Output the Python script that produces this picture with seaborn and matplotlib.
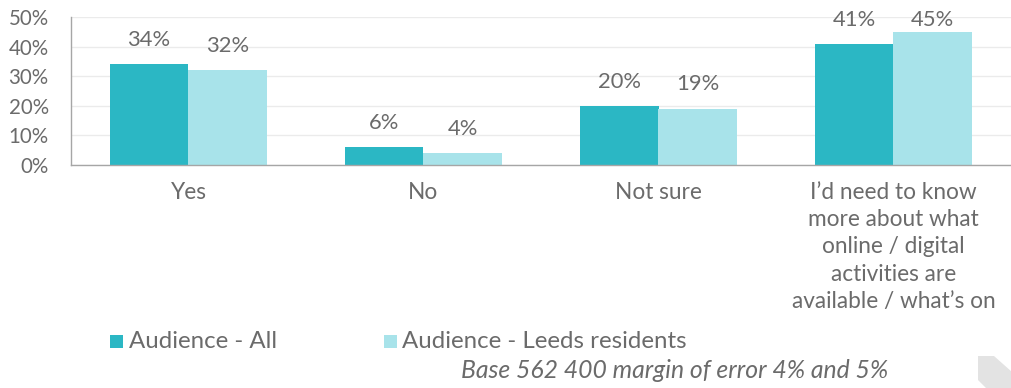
import matplotlib
matplotlib.use("Agg")
import matplotlib.pyplot as plt
import seaborn as sns
import pandas as pd
from matplotlib.patches import Polygon, Rectangle

categories = ["Yes", "No", "Not sure",
              "I\u2019d need to know\nmore about what\nonline / digital\nactivities are\navailable / what\u2019s on"]
series_names = ["Audience - All", "Audience - Leeds residents"]
audience_all = [34, 6, 20, 41]
leeds_residents = [32, 4, 19, 45]
y_ticks = [0, 10, 20, 30, 40, 50]
footnote = "Base 562 400 margin of error 4% and 5%"

colors = ["#2BB7C4", "#A8E3EA"]
text_color = "#6b6b6b"

df = pd.DataFrame({
    "category": categories * 2,
    "series": [series_names[0]] * 4 + [series_names[1]] * 4,
    "value": audience_all + leeds_residents,
})

sns.set_theme(style="white")
plt.rcParams["font.family"] = ["Lato", "DejaVu Sans"]

W, H = 1012, 388
fig = plt.figure(figsize=(W / 100, H / 100), dpi=100)
ax = fig.add_axes([71 / W, 1 - 165 / H, 940 / W, (165 - 17) / H])

sns.barplot(data=df, x="category", y="value", hue="series", order=categories,
            hue_order=series_names, palette=colors, width=0.67, saturation=1,
            ax=ax, legend=False, linewidth=0)

ax.set_ylim(0, 50)
ax.set_yticks(y_ticks)
ax.set_yticklabels([f"{t}%" for t in y_ticks])
ax.yaxis.grid(True, color="#ebebeb", linewidth=1)
ax.set_axisbelow(True)
ax.set_xlabel("")
ax.set_ylabel("")
for side in ["top", "right"]:
    ax.spines[side].set_visible(False)
for side in ["left", "bottom"]:
    ax.spines[side].set_color("#a6a6a6")
    ax.spines[side].set_linewidth(1)
ax.tick_params(axis="y", length=0, pad=16, labelsize=14.8, labelcolor=text_color)
ax.tick_params(axis="x", length=0, pad=12, labelsize=16.3, labelcolor=text_color)
for lbl in ax.get_xticklabels():
    lbl.set_linespacing(1.37)
    lbl.set_verticalalignment("top")

# value labels, kept inside the plot area like the original
for container in ax.containers:
    for patch, v in zip(container.patches, container.datavalues):
        xc = patch.get_x() + patch.get_width() / 2
        yl = min(v + 8.2, 49.0)
        ax.text(xc, yl, f"{v:.0f}%", ha="center", va="center",
                fontsize=15.8, color=text_color, clip_on=False)

# legend
leg_sq = [110, 384]
leg_tx = [129, 402]
for i, (name, col) in enumerate(zip(series_names, colors)):
    fig.patches.append(Rectangle((leg_sq[i] / W, 1 - 348 / H), 13 / W, 13 / H,
                                 transform=fig.transFigure, facecolor=col, edgecolor="none"))
    fig.text(leg_tx[i] / W, 1 - 341 / H, name, fontsize=17.3, color=text_color,
             va="center", ha="left")

fig.text(888 / W, 1 - 370 / H, footnote, fontsize=17.8, color=text_color,
         style="italic", va="center", ha="right")

# logo decoration
logo = Polygon([(978 / W, 1 - 356 / H), (994 / W, 1 - 356 / H),
                (1012 / W, 1 - 372 / H), (1012 / W, 0),
                (986 / W, 0), (978 / W, 1 - 380 / H)],
               closed=True, transform=fig.transFigure, facecolor="#e3e3e3", edgecolor="none")
fig.patches.append(logo)

fig.savefig("out.png", dpi=100)
